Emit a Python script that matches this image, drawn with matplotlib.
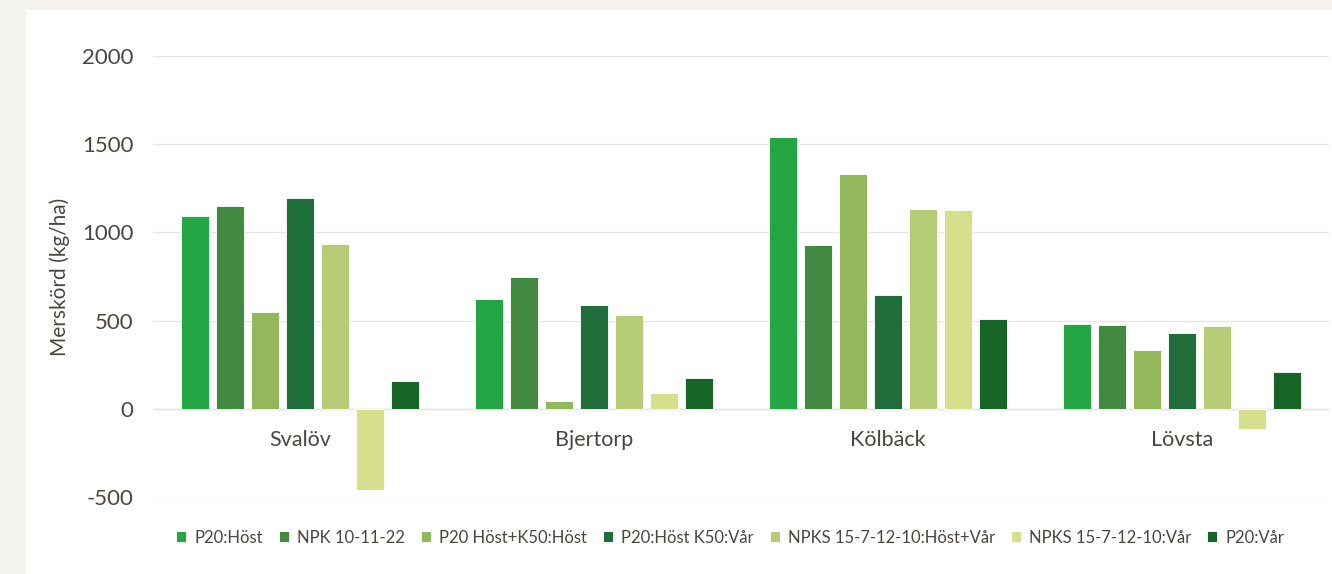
import matplotlib.pyplot as plt
import numpy as np
from matplotlib.patches import Rectangle

plt.rcParams['font.family'] = ['Lato', 'DejaVu Sans']
plt.rcParams['axes.unicode_minus'] = False

# data
platser = ['Svalöv', 'Bjertorp', 'Kölbäck', 'Lövsta']
serier = ['P20:Höst', 'NPK 10-11-22', 'P20 Höst+K50:Höst', 'P20:Höst K50:Vår',
          'NPKS 15-7-12-10:Höst+Vår', 'NPKS 15-7-12-10:Vår', 'P20:Vår']
p20_host = [1093, 623, 1539, 479]
npk_10_11_22 = [1148, 747, 930, 477]
p20_host_k50_host = [547, 45, 1329, 332]
p20_host_k50_var = [1197, 589, 644, 428]
npks_host_var = [936, 532, 1133, 470]
npks_var = [-460, 90, 1127, -115]
p20_var = [160, 176, 511, 211]
farger = ['#23a643', '#428a42', '#93b85c', '#1f6e3b', '#b7cc77', '#d6df8c', '#176427']

varden = [p20_host, npk_10_11_22, p20_host_k50_host, p20_host_k50_var,
          npks_host_var, npks_var, p20_var]

textfarg = '#4a4640'

fig = plt.figure(figsize=(13.32, 5.74), dpi=100)
fig.patch.set_facecolor('#f4f2ee')
fig.patches.append(Rectangle((26/1332, 0), 1306/1332, 564/574, transform=fig.transFigure,
                             facecolor='white', edgecolor='none', zorder=-5))

ax = fig.add_axes([153/1332, 77/574, 1176/1332, 441/574])
ax.patch.set_alpha(0)
x = np.arange(len(platser))
steg = 0.119
for j, (namn, v) in enumerate(zip(serier, varden)):
    ax.bar(x + (j - 3) * steg, v, width=0.093, color=farger[j], edgecolor='white',
           linewidth=0.6, label=namn, zorder=3)

ax.set_xlim(-0.5, 3.5)
ax.set_ylim(-500, 2000)
ax.set_yticks([-500, 0, 500, 1000, 1500, 2000])
ax.grid(axis='y', color='#e6e6e6', linewidth=1, zorder=0)
ax.axhline(0, color='#e0e0e0', linewidth=1, zorder=1)
for s in ax.spines.values():
    s.set_visible(False)
ax.spines['bottom'].set_position(('data', 0))
ax.set_xticks(x)
ax.set_xticklabels(platser)
ax.tick_params(axis='x', length=0, pad=15, labelsize=15.5, labelcolor=textfarg)
ax.tick_params(axis='y', length=0, pad=14, labelsize=16, labelcolor=textfarg)
ax.set_ylabel('Merskörd (kg/ha)', fontsize=15, color=textfarg)
ax.yaxis.set_label_coords(-0.071, 0.5)

ax.legend(loc='center', bbox_to_anchor=(0.491, -0.092), ncol=7, frameon=False,
          fontsize=12, handlelength=0.6, handleheight=0.6, handletextpad=0.5,
          columnspacing=0.95, labelcolor=textfarg)

fig.savefig('out.png', dpi=100)
